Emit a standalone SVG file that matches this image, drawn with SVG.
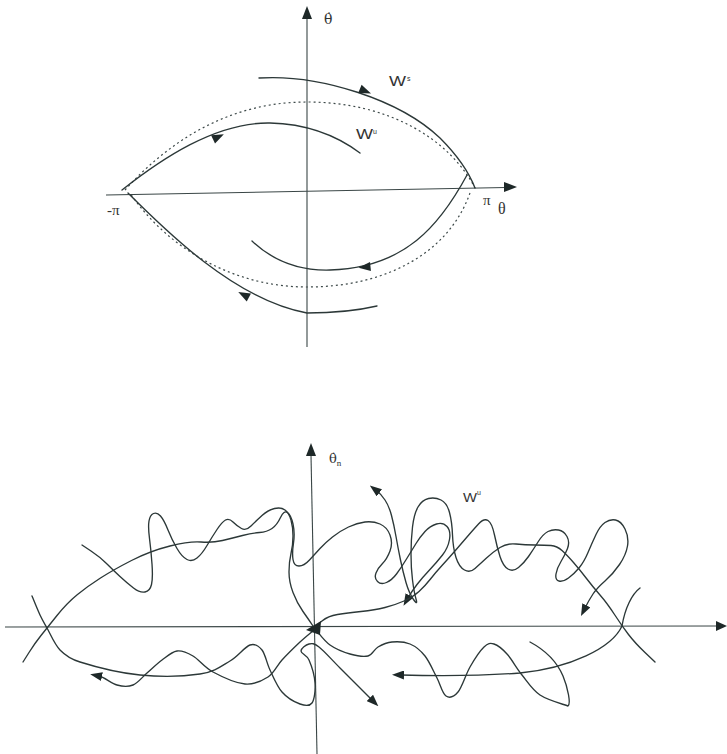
<svg xmlns="http://www.w3.org/2000/svg" width="727" height="754" viewBox="0 0 727 754">
<style>
.ax{fill:none;stroke:#3a4646;stroke-width:1.1}
.cv{fill:none;stroke:#2c3838;stroke-width:1.35;stroke-linecap:round;stroke-linejoin:round}
.dt{fill:none;stroke:#3e4a4a;stroke-width:1.2;stroke-dasharray:2 3}
.hd{fill:#1e2828}
.lb{font-family:"Liberation Sans",Arial,sans-serif;fill:#333}
.gk{font-family:"Liberation Serif","Times New Roman",serif;fill:#333}
.dj{font-family:"DejaVu Serif",serif;fill:#333}
</style>
<defs>
<marker id="ah" viewBox="0 0 12 9" refX="3" refY="4.5" markerWidth="12" markerHeight="9" markerUnits="userSpaceOnUse" orient="auto"><path d="M0,0 L12,4.5 L0,9 z" fill="#1e2828"/></marker>
</defs>

<g id="top-plot">
 <g id="top-axes">
  <line class="ax" x1="307" y1="347" x2="307" y2="18"/>
  <polygon class="hd" points="307,6 302,19 312,19"/>
  <line class="ax" x1="106" y1="195" x2="506" y2="187.5"/>
  <polygon class="hd" points="517,187 504,182 504,192"/>
 </g>
 <g id="top-labels">
  <text class="dj" x="324" y="24" font-size="14">θ̇</text>
  <text class="gk" x="107" y="215" font-size="15">-π</text>
  <text class="gk" x="483" y="205" font-size="15">π</text>
  <text class="gk" x="498" y="214" font-size="16">θ</text>
  <text class="lb" x="389" y="86" font-size="14" textLength="17" lengthAdjust="spacingAndGlyphs">W</text>
  <text class="lb" x="407" y="81" font-size="7">s</text>
  <text class="lb" x="356" y="139" font-size="14" textLength="17" lengthAdjust="spacingAndGlyphs">W</text>
  <text class="lb" x="373" y="134" font-size="7">u</text>
 </g>
 <g id="top-connectors">
  <path class="dt" d="M125,190 C170,140 230,102 307,102 C390,102 450,140 475,188"/>
  <path class="dt" d="M470,193 C450,250 390,287 307,287 C230,287 165,245 130,193"/>
  <path class="cv" d="M259,78 C320,74 400,100 440,138 C458,156 470,175 475,188"/>
  <path class="cv" d="M467,175 C440,225 405,268 330,270 C295,271 270,258 252,241"/>
  <path class="cv" d="M122,190 C160,160 215,122 270,123 C310,124 340,138 360,153"/>
  <path class="cv" d="M128,193 C165,230 235,300 307,313 C335,313 360,310 377,306"/>
  <polygon class="hd" points="6.5,0 -5.5,-4.5 -5.5,4.5" transform="translate(365,91) rotate(22)"/>
  <polygon class="hd" points="6.5,0 -5.5,-4.5 -5.5,4.5" transform="translate(365,267) rotate(174)"/>
  <polygon class="hd" points="6.5,0 -5.5,-4.5 -5.5,4.5" transform="translate(218,137) rotate(-26)"/>
  <polygon class="hd" points="6.5,0 -5.5,-4.5 -5.5,4.5" transform="translate(244,295) rotate(208)"/>
 </g>
</g>

<g id="bottom-plot">
 <g id="bottom-axes">
  <line class="ax" x1="317" y1="754" x2="311" y2="455"/>
  <polygon class="hd" points="311,443 306,456 316,456"/>
  <line class="ax" x1="5" y1="627" x2="717" y2="626"/>
  <polygon class="hd" points="727,626 716,621 716,631"/>
 </g>
 <g id="bottom-labels">
  <text class="dj" x="329" y="463" font-size="13">θ̇<tspan class="gk" font-size="9" dy="3">n</tspan></text>
  <text class="lb" x="463" y="502" font-size="13" textLength="14" lengthAdjust="spacingAndGlyphs">W</text>
  <text class="lb" x="477" y="495" font-size="7">u</text>
 </g>
 <g id="bottom-connectors">
  <path class="cv" d="M82,545 L91,551 Q100,557 106.5,563.5 Q113,570 120,576.5 Q127,583 133.5,588 Q140,593 145,592 Q150,591 151.5,584.5 Q153,578 152,564 Q151,550 149.5,538.5 Q148,527 149,521 Q150,515 153.5,513.5 Q157,512 160.5,516 Q164,520 168,530 Q172,540 177,548.5 Q182,557 187,559.5 Q192,562 197,558 Q202,554 207,545.5 Q212,537 217,529.5 Q222,522 225.5,520 Q229,518 233,522 Q237,526 241.5,528.5 Q246,531 251,526 Q256,521 262,515.5 Q268,510 274.5,508.5 Q281,507 285,510 Q289,513 291,520 Q293,527 293,536 Q293,545 291,553.5 Q289,562 289,572 Q289,582 293,592.5 Q297,603 303,611.5 Q309,620 313,626"/>
  <path class="cv" marker-end="url(#ah)" d="M23,662 L29,652.5 Q35,643 41,635.5 Q47,628 57,615.5 Q67,603 77.5,594.5 Q88,586 100.5,578 Q113,570 131.5,560.5 Q150,551 170,546 Q190,541 201,542 Q212,543 222.5,540.5 Q233,538 242.5,535.5 Q252,533 259.5,532.5 Q267,532 272,528.5 Q277,525 280.5,517.5 Q284,510 287.5,512.5 Q291,515 293,524 Q295,533 293.5,543 Q292,553 293,559.5 Q294,566 299,566 Q304,566 309.5,560 Q315,554 320,548.5 Q325,543 332.5,537 Q340,531 348.5,527 Q357,523 365,522 Q373,521 380,524 Q387,527 390,535 Q393,543 390,551 Q387,559 382.5,563.5 Q378,568 376,573 Q374,578 377.5,581.5 Q381,585 386.5,582.5 Q392,580 396.5,574 Q401,568 406.5,559 Q412,550 416,543.5 Q420,537 425,531.5 Q430,526 436.5,524 Q443,522 447,526.5 Q451,531 449.5,539.5 Q448,548 442.5,555 Q437,562 429.5,570 Q422,578 417,584.5 Q412,591 408,598"/>
  <path class="cv" marker-end="url(#ah)" d="M316,626 L322,621 Q328,616 337.5,614.5 Q347,613 361,611.5 Q375,610 385,607.5 Q395,605 404,601 Q413,597 419,591.5 Q425,586 430.5,579 Q436,572 442,565.5 Q448,559 454.5,551.5 Q461,544 467,537 Q473,530 478.5,524 Q484,518 488,520.5 Q492,523 494.5,535 Q497,547 500,556.5 Q503,566 508,569 Q513,572 518.5,567.5 Q524,563 528.5,556.5 Q533,550 538,542 Q543,534 548,531.5 Q553,529 558.5,530 Q564,531 567,536.5 Q570,542 567.5,548.5 Q565,555 561,561.5 Q557,568 556,574 Q555,580 559,581 Q563,582 568.5,578 Q574,574 579,568 Q584,562 588,552.5 Q592,543 596,534.5 Q600,526 605,522.5 Q610,519 615.5,520 Q621,521 625,529 Q629,537 627.5,546 Q626,555 619.5,564.5 Q613,574 605,581 Q597,588 593,594 Q589,600 585,608"/>
  <path class="cv" marker-end="url(#ah)" d="M655,662 L645,652.5 Q635,643 628.5,634.5 Q622,626 614.5,614.5 Q607,603 600,595 Q593,587 586.5,578.5 Q580,570 573.5,562.5 Q567,555 562,550.5 Q557,546 551,545.5 Q545,545 535,545 Q525,545 516,544 Q507,543 500,547.5 Q493,552 486.5,558 Q480,564 475,568.5 Q470,573 464.5,570 Q459,567 456,557.5 Q453,548 452.5,535 Q452,522 449.5,512.5 Q447,503 441,500 Q435,497 428.5,498.5 Q422,500 418,507 Q414,514 412.5,527 Q411,540 411,554 Q411,568 412.5,580 Q414,592 416,599 Q418,606 413.5,599.5 Q409,593 406,582.5 Q403,572 400.5,560 Q398,548 396,536.5 Q394,525 391.5,515.5 Q389,506 385,500 Q381,494 377,491"/>
  <path class="cv" marker-end="url(#ah)" d="M32,596 C33.3,599.2 37.5,609.7 40,615 C42.5,620.3 43.7,622.2 47,628 C50.3,633.8 54.5,644.3 60,650 C65.5,655.7 70,659 80,662 C93.3,666.2 120,673 140,675 C160,677 185,676.3 200,674 C215,671.7 221.7,665.8 230,661 C238.3,656.2 244.7,646.8 250,645 C255.3,643.2 258.7,645.8 262,650 C265.3,654.2 266.7,663 270,670 C273.3,677 277,686.3 282,692 C287,697.7 295,702.2 300,704 C305,705.8 309.5,706.5 312,703 C314.5,699.5 315.5,690.2 315,683 C314.5,675.8 311.3,665.3 309,660 C306.7,654.7 301,653.7 301,651 C301,648.3 306,644.7 309,644 C312,643.3 313.8,643 319,647 C324.2,651 331.2,659.2 340,668 C348.8,676.8 366.7,694.7 372,700"/>
  <path class="cv" marker-end="url(#ah)" d="M314,630 C311.7,632 305.3,637 300,642 C294.7,647 287.3,654.2 282,660 C276.7,665.8 274.2,673 268,677 C261.8,681 254.2,684.8 245,684 C235.8,683.2 221.7,676.7 213,672 C204.3,667.3 199,659.5 193,656 C187,652.5 182.2,650.3 177,651 C171.8,651.7 167,656.3 162,660 C157,663.7 151.8,668.8 147,673 C142.2,677.2 138,683 133,685 C128,687 122.3,686.5 117,685 C111.7,683.5 104,677 99,676"/>
  <path class="cv" d="M316,630 C318.3,632.5 324.3,641 330,645 C335.7,649 343.7,652.2 350,654 C356.3,655.8 363.3,657.2 368,656 C372.7,654.8 374,649.3 378,647 C382,644.7 386.7,642.5 392,642 C397.3,641.5 404.5,641.7 410,644 C415.5,646.3 420.5,650.3 425,656 C429.5,661.7 433.5,671.3 437,678 C440.5,684.7 442.5,693.7 446,696 C449.5,698.3 454,696.8 458,692 C462,687.2 465.7,674.5 470,667 C474.3,659.5 480,650.8 484,647 C488,643.2 490.2,642.8 494,644 C497.8,645.2 502.3,648.8 507,654 C511.7,659.2 516.5,668.2 522,675 C527.5,681.8 532.3,689.8 540,695 C547.7,700.2 563.3,704.2 568,706 C571,704 568,688 563,676 C557,662 545,650 530,642"/>
  <path class="cv" marker-end="url(#ah)" d="M640,588 C632,594 625,608 622,626 C612,648 570,668 520,673 C480,676 440,676 401,675"/>
  <polygon class="hd" points="306,630 321,621 320,635"/>
 </g>
</g>
</svg>
